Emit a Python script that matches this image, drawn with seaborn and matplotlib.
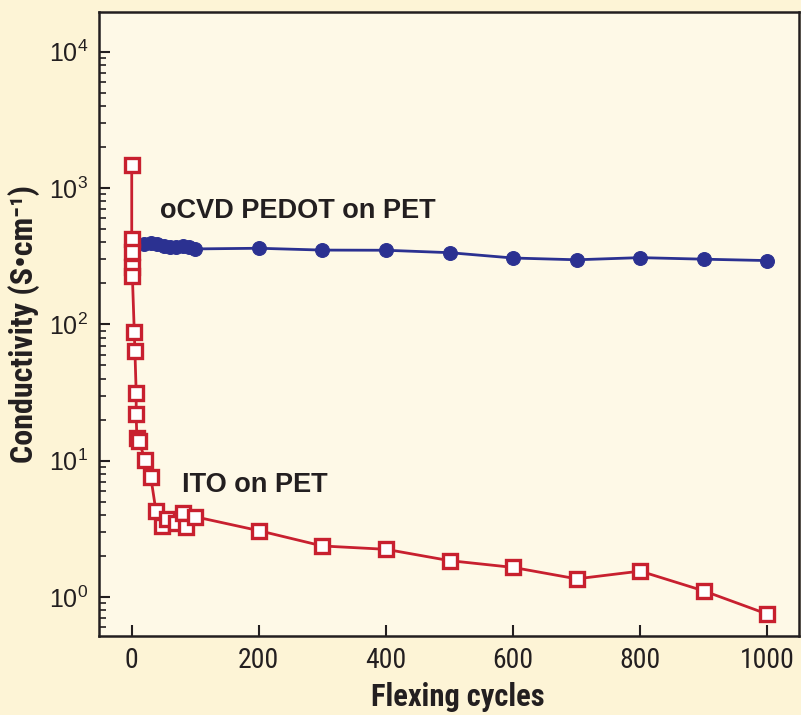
import numpy as np
import pandas as pd
import seaborn as sns
import matplotlib.pyplot as plt
from matplotlib.ticker import LogLocator, FixedLocator

# ITO on PET (open red squares)
ito_cycles = [0, 0, 1, 1, 1, 4, 5, 7, 7, 8, 11, 21, 30, 38, 48, 55, 70, 80, 86, 100,
              200, 300, 400, 500, 600, 700, 800, 900, 1000]
ito_cond = [1480, 421, 341, 262, 227, 88, 64, 31.5, 21.9, 14.8, 14.0, 10.2, 7.6,
            4.3, 3.32, 3.72, 3.51, 4.11, 3.28, 3.88,
            3.07, 2.37, 2.24, 1.85, 1.65, 1.36, 1.55, 1.11, 0.75]

# oCVD PEDOT on PET (filled blue circles)
pedot_cycles = [20, 30, 40, 50, 60, 70, 80, 90, 100,
                200, 300, 400, 500, 600, 700, 800, 900, 1000]
pedot_cond = [388, 396, 392, 376, 372, 368, 374, 370, 358,
              362, 351, 350, 336, 307, 298, 309, 301, 294]

red = "#c8202f"
blue = "#2b3191"
ink = "#231f20"
outer_bg = "#fdf4d6"
inner_bg = "#fef9e7"

narrow = ["Liberation Sans Narrow", "DejaVu Sans Condensed", "Roboto Condensed",
          "Liberation Sans", "DejaVu Sans"]

sns.set_style("ticks")
plt.rcParams["font.family"] = narrow
plt.rcParams["mathtext.fontset"] = "custom"
plt.rcParams["mathtext.rm"] = "Liberation Sans"
plt.rcParams["mathtext.it"] = "Liberation Sans"

fig = plt.figure(figsize=(8.01, 7.15), dpi=100, facecolor=outer_bg)
ax = fig.add_axes([0.1236, 0.1105, 0.874, 0.8727])
ax.set_facecolor(inner_bg)

ito = pd.DataFrame({"cycles": ito_cycles, "cond": ito_cond})
pedot = pd.DataFrame({"cycles": pedot_cycles, "cond": pedot_cond})

sns.lineplot(data=pedot, x="cycles", y="cond", ax=ax, color=blue, lw=2,
             marker="o", markersize=10, markeredgecolor=blue, markerfacecolor=blue,
             sort=False, estimator=None, zorder=2)
sns.lineplot(data=ito, x="cycles", y="cond", ax=ax, color=red, lw=2,
             marker="s", markersize=10, markeredgewidth=2.4, markeredgecolor=red,
             markerfacecolor="white", sort=False, estimator=None, zorder=3)

ax.set_yscale("log")
ax.set_xlim(-51.5, 1050)
ax.set_ylim(0.518, 19580)

ax.xaxis.set_major_locator(FixedLocator([0, 200, 400, 600, 800, 1000]))
ax.yaxis.set_major_locator(LogLocator(base=10, numticks=10))
ax.yaxis.set_minor_locator(LogLocator(base=10, subs=np.arange(2, 10), numticks=10))

ax.tick_params(axis="both", which="major", direction="in", length=8, width=1.5,
               color=ink, labelcolor=ink)
ax.tick_params(axis="x", labelsize=20, pad=8)
ax.tick_params(axis="y", labelsize=18, pad=8)
ax.tick_params(axis="y", which="minor", direction="in", length=5, width=1.2, color=ink)
ax.tick_params(axis="x", which="minor", bottom=False)

# y labels (10^n) are in the wider sans in the original
plt.setp(ax.get_yticklabels(), family="Liberation Sans")

for sp in ax.spines.values():
    sp.set_visible(True)
    sp.set_linewidth(1.8)
    sp.set_color(ink)

ax.set_xlabel("Flexing cycles", fontsize=22, fontweight="bold", color=ink)
ax.xaxis.set_label_coords(0.513, -0.074)
ax.set_ylabel("Conductivity (S\u2022cm\u207b\u00b9)", fontsize=23, fontweight="bold",
              color=ink, labelpad=6)

ax.text(44, 680, "oCVD PEDOT on PET", fontsize=19.5, fontweight="bold", color=ink,
        family="Liberation Sans", va="center", ha="left")
ax.text(79, 6.6, "ITO on PET", fontsize=19.5, fontweight="bold", color=ink,
        family="Liberation Sans", va="center", ha="left")

fig.savefig("out.png", dpi=100, facecolor=outer_bg)
